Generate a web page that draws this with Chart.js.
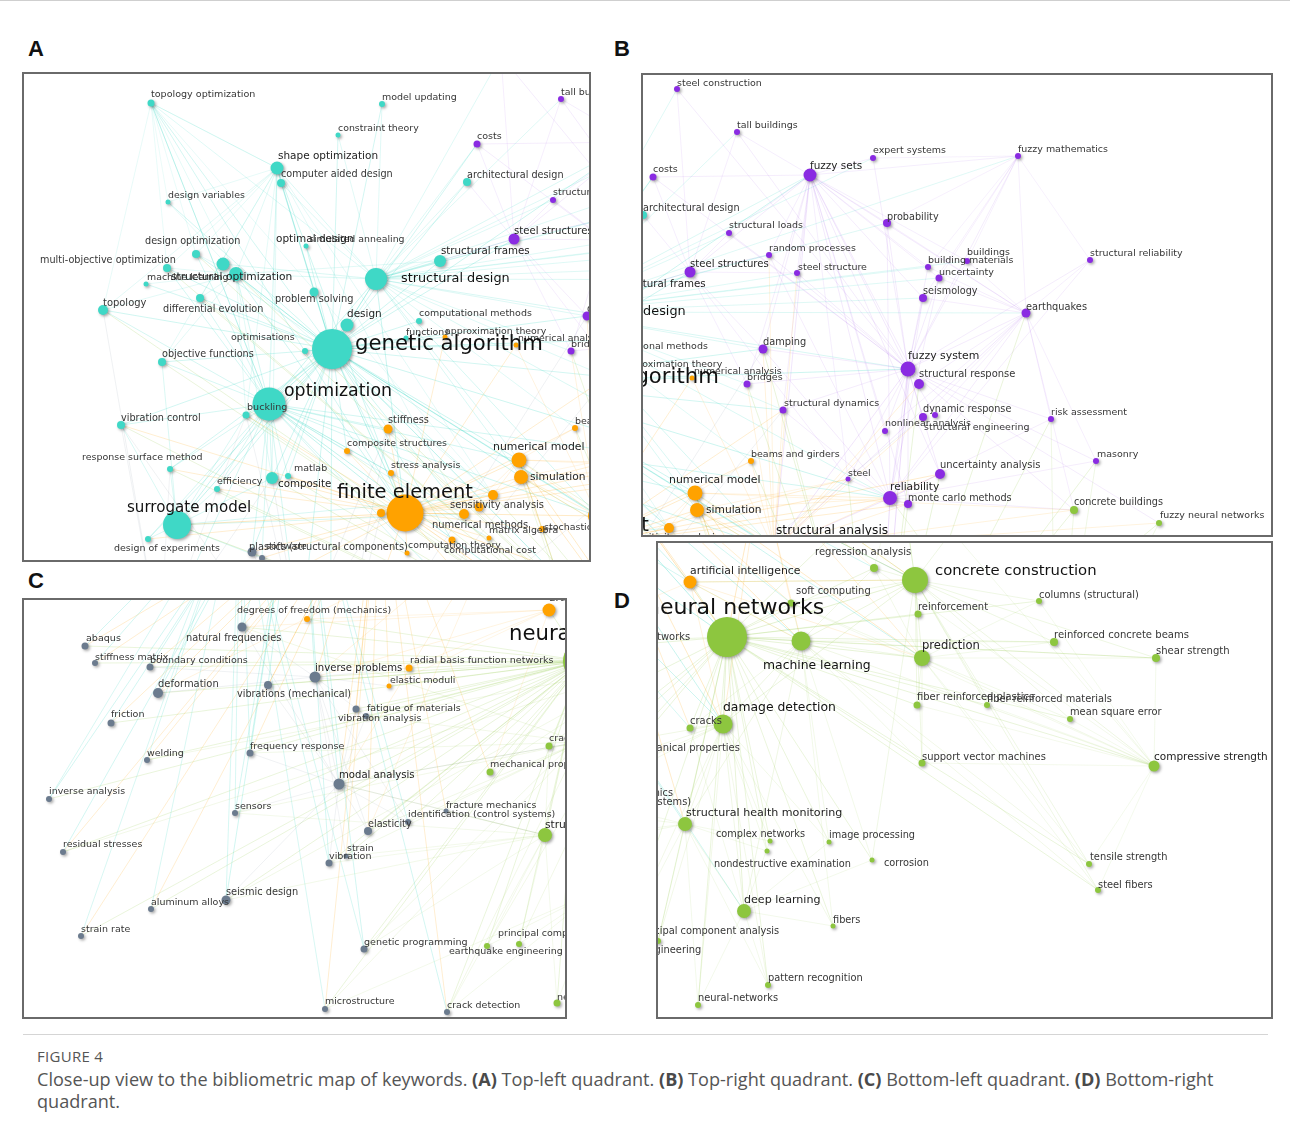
<!DOCTYPE html>
<html><head><meta charset="utf-8">
<script src="https://cdn.jsdelivr.net/npm/chart.js@4.4.0/dist/chart.umd.min.js"></script>
<style>
html,body{margin:0;padding:0;background:#fff;}
#page{position:relative;width:1290px;height:1133px;overflow:hidden;background:#fff;border-top:1px solid #cfcfcf;box-sizing:border-box;}
canvas{position:absolute;}
.frame{position:absolute;box-sizing:border-box;border:2px solid #6a6a6a;pointer-events:none;}
.tag{position:absolute;font:bold 22px "Liberation Sans",Arial,sans-serif;color:#111;line-height:22px;}
#sep{position:absolute;left:23px;top:1033px;width:1245px;height:1px;background:#d5d5d5;}
#fig{position:absolute;left:37px;top:1045px;font:15px/20px "Open Sans",sans-serif;color:#555;letter-spacing:0.3px;}
#cap{position:absolute;left:37px;top:1067px;font:18.1px/22px "Open Sans",sans-serif;color:#555;white-space:nowrap;}
#cap b{color:#4a4a4a;}
</style></head><body>
<div id="page">
<div class="tag" style="left:28px;top:37px">A</div>
<div class="tag" style="left:614px;top:37px">B</div>
<div class="tag" style="left:28px;top:569px">C</div>
<div class="tag" style="left:614px;top:589px">D</div>
<div id="sep"></div>
<div id="fig">FIGURE 4</div>
<div id="cap">Close-up view to the bibliometric map of keywords. <b>(A)</b> Top-left quadrant. <b>(B)</b> Top-right quadrant. <b>(C)</b> Bottom-left quadrant. <b>(D)</b> Bottom-right<br>quadrant.</div>
</div>
<script>
// ================= DATA: top map (panels A and B share it) =================
const topName = [
"topology optimization","model updating","constraint theory","shape optimization","computer aided design","design variables","design optimization","optimal design","simulated annealing","multi-objective optimization",
"machine learning","structural optimization","topology","differential evolution","problem solving","structural frames","structural design","design","computational methods","functions",
"genetic algorithm","optimisations","objective functions","optimization","buckling","vibration control","response surface method","efficiency","composite","matlab",
"surrogate model","design of experiments","architectural design","plastics (structural components)","software","approximation theory","numerical analysis","stiffness","composite structures","stress analysis",
"numerical model","simulation","beams and girders","finite element","sensitivity analysis","numerical methods","finite element analysis","finite element method","matrix algebra","stochastic systems",
"computation theory","computational cost","structural analysis","costs","tall buildings","structural loads","steel structures","steel construction","expert systems","fuzzy sets",
"probability","random processes","steel structure","buildings","building materials","uncertainty","seismology","fuzzy mathematics","structural reliability","earthquakes",
"damping","bridges","structural dynamics","fuzzy system","structural response","dynamic response","structural engineering","nonlinear analysis","risk assessment","masonry",
"uncertainty analysis","steel","reliability","monte carlo methods","concrete buildings","fuzzy neural networks","neural networks","concrete construction","damage detection","modal analysis",
"inverse problems","deformation"];
const topX = [
151,382,338,277,281,168,196,223,306,167,
146,236,103,200,314,440,376,347,419,406,
332,305,162,269,246,121,170,217,272,288,
177,148,467,252,262,445,516,388,347,391,
519,521,575,405,493,464,479,381,489,542,
407,452,598,477,561,553,514,501,697,634,
711,593,621,791,752,763,747,842,914,850,
587,571,607,732,743,747,759,709,875,920,
764,672,714,732,898,983,700,880,620,330,
300,160];
const topY = [
102,103,134,167,182,201,253,263,245,267,
283,273,309,297,291,260,278,324,320,337,
348,350,361,403,414,424,468,488,477,475,
524,538,181,551,557,336,344,428,450,472,
459,476,427,512,494,513,506,512,537,528,
552,539,515,143,98,199,238,55,124,141,
189,221,239,227,233,244,264,122,226,279,
315,350,376,335,350,383,381,397,385,427,
440,445,464,470,476,489,720,690,760,720,
640,640];
const topW = [
3.5,3,2.5,6.5,4,2.5,4,6.5,2.5,4,
2.5,7,5,4,4.5,6,11,6.5,3,2.5,
20,3,4,16.5,3.5,4,3,3,6,3,
14,3,4,4.5,3,2.5,2.5,4.5,3,3,
7.5,7,3,18.5,5,5,4.5,4,2.5,3,
2.5,3.5,10,3.5,3,3,5.5,3,3,6.5,
4,3,3,3,3,3.5,4,3,3,4.5,
4.5,3.5,3.5,7.5,5,4,3,3,3,3,
5,2.5,7,4,4,3,20,13,9.5,5.5,
5.5,5];
const topG = [
"c","c","c","c","c","c","c","c","c","c",
"c","c","c","c","c","c","c","c","c","c",
"c","c","c","c","c","c","c","c","c","c",
"c","c","c","s","s","o","o","o","o","o",
"o","o","o","o","o","o","o","o","o","o",
"o","o","o","p","p","p","p","p","p","p",
"p","p","p","p","p","p","p","p","p","p",
"p","p","p","p","p","p","p","p","p","p",
"p","p","p","p","g","g","g","g","g","s",
"s","s"];
const topTX = [
151,382,338,278,281,168,145,276,309,40,
147,171,103,163,275,441,401,347,419,406,
355,231,162,284,247,121,82,217,278,294,
127,114,467,249,266,445,518,388,347,391,
493,530,575,337,450,432,null,null,489,544,
408,444,600,477,561,553,514,501,697,634,
711,593,622,791,752,763,747,842,914,850,
587,571,608,732,743,747,748,709,875,921,
764,672,714,732,898,984,null,null,null,null,
null,null];
const topTY = [
94,97,128,155,173,195,240,238,239,259,
277,276,302,308,298,250,278,313,313,332,
343,337,353,390,407,417,457,481,483,468,
507,548,174,546,546,331,338,419,443,465,
446,476,421,492,504,524,null,null,530,527,
545,550,497,136,92,192,230,50,117,132,
183,215,234,219,227,239,257,116,220,273,
308,344,370,322,340,375,394,390,379,421,
431,440,453,464,468,482,null,null,null,null,
null,null];
const topEdges = [
 ["genetic algorithm", ["optimization","structural design","shape optimization","topology optimization","structural optimization","optimal design","design optimization","multi-objective optimization","design variables","topology","differential evolution","problem solving","design","computational methods","functions","optimisations","objective functions","buckling","vibration control","response surface method","efficiency","composite","matlab","surrogate model","design of experiments","structural frames","architectural design","simulated annealing","machine learning","computer aided design","model updating","constraint theory","finite element","numerical model","simulation","stiffness","composite structures","stress analysis","sensitivity analysis","numerical methods","approximation theory","numerical analysis","structural analysis","fuzzy sets","fuzzy system","steel structures","reliability","structural dynamics","damping","neural networks","costs","plastics (structural components)","inverse problems","modal analysis","computational cost","concrete construction"]],
 ["optimization", ["structural optimization","topology optimization","shape optimization","design optimization","multi-objective optimization","topology","objective functions","vibration control","response surface method","surrogate model","buckling","composite","efficiency","matlab","design of experiments","differential evolution","finite element","stiffness","composite structures","numerical model","sensitivity analysis","numerical methods","stress analysis","structural design","design","neural networks","deformation","plastics (structural components)","software","computation theory","matrix algebra","damage detection","structural analysis","reliability","inverse problems"]],
 ["structural design", ["architectural design","structural frames","shape optimization","computer aided design","optimal design","design","model updating","constraint theory","costs","steel structures","tall buildings","structural loads","steel structure","steel construction","fuzzy sets","probability","fuzzy system","earthquakes","seismology","buildings","building materials","random processes","structural analysis","finite element","numerical model","simulation","beams and girders","bridges","damping","expert systems","structural dynamics","reliability","uncertainty","fuzzy mathematics"]],
 ["shape optimization", ["topology optimization","design variables","multi-objective optimization","structural optimization","topology","differential evolution","problem solving","computer aided design","design optimization","finite element","sensitivity analysis","objective functions","buckling","numerical methods","composite"]],
 ["topology optimization", ["topology","structural optimization","shape optimization","design variables","finite element","optimization","design optimization","multi-objective optimization","structural design","sensitivity analysis"]],
 ["structural optimization", ["topology","design optimization","multi-objective optimization","differential evolution","machine learning","design variables","objective functions","finite element","sensitivity analysis","buckling","composite","structural design","structural frames"]],
 ["finite element", ["stiffness","composite structures","stress analysis","numerical model","simulation","sensitivity analysis","numerical methods","finite element analysis","finite element method","matrix algebra","stochastic systems","computation theory","computational cost","structural analysis","beams and girders","numerical analysis","approximation theory","surrogate model","composite","buckling","matlab","efficiency","vibration control","neural networks","plastics (structural components)","software","design of experiments","response surface method","deformation","modal analysis","damage detection","reliability","uncertainty analysis","steel","structural dynamics","monte carlo methods","concrete construction"]],
 ["numerical model", ["simulation","sensitivity analysis","beams and girders","structural analysis","neural networks","stochastic systems","numerical methods","reliability","concrete buildings","damage detection"]],
 ["simulation", ["neural networks","structural analysis","sensitivity analysis","reliability","stochastic systems","concrete construction","steel"]],
 ["fuzzy sets", ["probability","random processes","steel structure","fuzzy system","structural response","fuzzy mathematics","expert systems","reliability","uncertainty","seismology","damping","structural loads","steel structures","building materials","buildings","structural dynamics","bridges","nonlinear analysis","structural analysis","earthquakes","costs","tall buildings","monte carlo methods","steel","uncertainty analysis"]],
 ["fuzzy system", ["fuzzy mathematics","expert systems","probability","earthquakes","structural reliability","seismology","uncertainty","buildings","building materials","risk assessment","masonry","damping","bridges","structural dynamics","nonlinear analysis","reliability","monte carlo methods","uncertainty analysis","steel","costs","steel construction","tall buildings","structural response","dynamic response","structural engineering","structural loads","random processes","steel structure","structural analysis","neural networks","concrete buildings","fuzzy neural networks"]],
 ["reliability", ["monte carlo methods","uncertainty analysis","probability","structural reliability","steel","structural analysis","neural networks","random processes","uncertainty","seismology","risk assessment","masonry","earthquakes","concrete buildings","structural dynamics","damping"]],
 ["earthquakes", ["fuzzy mathematics","structural reliability","seismology","structural response","dynamic response","risk assessment","masonry","buildings","building materials","uncertainty","probability","structural engineering","nonlinear analysis","structural analysis","concrete buildings"]],
 ["fuzzy mathematics", ["expert systems","probability","seismology","uncertainty","buildings","structural reliability","building materials"]],
 ["structural analysis", ["damping","bridges","structural dynamics","beams and girders","steel","nonlinear analysis","dynamic response","structural response","uncertainty analysis","monte carlo methods","concrete buildings","fuzzy neural networks","neural networks","steel structure","random processes","numerical analysis"]],
 ["neural networks", ["concrete buildings","fuzzy neural networks","damping","structural dynamics","steel","monte carlo methods","uncertainty analysis","structural response","sensitivity analysis","stochastic systems","numerical methods","composite structures","stiffness","stress analysis","surrogate model","response surface method","efficiency","matlab","composite","buckling","vibration control","objective functions","differential evolution","structural optimization","multi-objective optimization","design optimization","topology","bridges","beams and girders","earthquakes","risk assessment","masonry"]],
 ["concrete construction", ["concrete buildings","fuzzy neural networks","masonry","risk assessment","reliability","structural analysis","numerical model","simulation"]],
 ["surrogate model", ["response surface method","design of experiments","efficiency","sensitivity analysis","vibration control","objective functions","composite","buckling","numerical methods","software"]],
 ["steel structures", ["costs","tall buildings","structural loads","steel construction","structural frames","architectural design","steel structure","random processes","damping","bridges","steel"]],
 ["modal analysis", ["damping","structural dynamics","finite element method","vibration control","stiffness","dynamic response"]],
 ["inverse problems", ["finite element method","composite","stiffness","buckling","plastics (structural components)"]],
 ["deformation", ["topology","vibration control","composite","response surface method","buckling"]],
 ["damage detection", ["numerical model","simulation","stochastic systems","computational cost","matrix algebra"]]
];

// ================= DATA: panel C map =================
const cName = ["natural frequencies","abaqus","stiffness matrix","boundary conditions","deformation","vibrations (mechanical)","friction","welding","frequency response","inverse analysis",
"sensors","residual stresses","seismic design","aluminum alloys","strain rate","inverse problems","fatigue of materials","vibration analysis","modal analysis","fracture mechanics",
"identification (control systems)","elasticity","strain","vibration","genetic programming","microstructure","crack detection","degrees of freedom (mechanics)","radial basis function networks","elastic moduli",
"artificial intelligence","neural networks","cracks","mechanical properties","structural health monitoring","principal component analysis","earthquake engineering","neural-networks","machine learning","damage detection",
"deep learning","concrete construction","prediction","finite element","genetic algorithm","optimization","numerical model"];
const cX = [242,85,95,150,158,268,111,147,250,49,
235,63,226,151,81,315,356,366,339,446,
408,368,346,329,364,325,447,307,409,389,
549,583,549,490,545,519,487,557,652,580,
599,758,765,380,300,240,500];
const cY = [626,645,662,666,692,684,722,759,752,798,
812,851,899,908,935,676,708,715,783,810,
821,830,855,862,948,1008,1011,618,667,685,
609,660,745,771,834,943,945,1002,664,741,
889,607,652,470,430,480,520];
const cW = [4.5,3.5,3,3.5,5,4,3.5,3,3.5,3,
3,3,4.5,3,3,5.5,3.5,3,5.5,2.5,
3,4,2.5,3.5,3.5,3,3,3,3.5,2.5,
6.5,20,3.5,3.5,7,3,3,3.5,9.5,9.5,
7,13,8,18.5,20,16.5,7.5];
const cG = ["s","s","s","s","s","s","s","s","s","s",
"s","s","s","s","s","s","s","s","s","s",
"s","s","s","s","s","s","s","o","o","o",
"o","g","g","g","g","g","g","g","g","g",
"g","g","g","o","c","c","o"];
const cTX = [186,86,95,150,158,237,111,147,250,49,
235,63,226,151,81,315,367,338,339,446,
408,368,347,329,364,325,447,237,410,390,
549,509,549,490,545,498,449,557,null,null,
null,null,null,null,null,null,null];
const cTY = [637,638,657,660,683,693,714,753,746,791,
806,844,891,902,929,667,708,718,774,805,
814,823,848,856,942,1001,1005,610,660,680,
597,633,738,764,824,933,951,997,null,null,
null,null,null,null,null,null,null];
const cEdges = [
 ["neural networks", ["natural frequencies","abaqus","stiffness matrix","boundary conditions","deformation","vibrations (mechanical)","friction","welding","frequency response","inverse analysis","sensors","residual stresses","seismic design","aluminum alloys","strain rate","inverse problems","fatigue of materials","vibration analysis","modal analysis","fracture mechanics","identification (control systems)","elasticity","strain","vibration","genetic programming","microstructure","crack detection","degrees of freedom (mechanics)","radial basis function networks","elastic moduli","artificial intelligence","cracks","mechanical properties","structural health monitoring","principal component analysis","earthquake engineering","neural-networks"]],
 ["finite element", ["natural frequencies","abaqus","stiffness matrix","boundary conditions","deformation","vibrations (mechanical)","friction","welding","frequency response","residual stresses","aluminum alloys","strain rate","inverse problems","modal analysis","elasticity","crack detection","microstructure","fatigue of materials","degrees of freedom (mechanics)","elastic moduli","fracture mechanics","strain","mechanical properties"]],
 ["genetic algorithm", ["seismic design","inverse analysis","inverse problems","modal analysis","frequency response","sensors","genetic programming","natural frequencies","vibration","deformation","identification (control systems)","abaqus","boundary conditions","stiffness matrix","vibrations (mechanical)","crack detection","friction","residual stresses"]],
 ["optimization", ["seismic design","sensors","inverse analysis","aluminum alloys","strain rate","welding","deformation","natural frequencies","frequency response","genetic programming","microstructure","vibration"]],
 ["modal analysis", ["natural frequencies","vibrations (mechanical)","frequency response","inverse problems","vibration","identification (control systems)","sensors","elasticity","damage detection","structural health monitoring","fatigue of materials","vibration analysis","seismic design"]],
 ["inverse problems", ["deformation","elastic moduli","identification (control systems)","vibration analysis","radial basis function networks","boundary conditions","natural frequencies","elasticity","strain"]],
 ["structural health monitoring", ["vibration","sensors","modal analysis","crack detection","fracture mechanics","genetic programming","principal component analysis","earthquake engineering","cracks","neural-networks","seismic design","strain"]],
 ["damage detection", ["modal analysis","frequency response","vibration","crack detection","natural frequencies","sensors","identification (control systems)","elasticity","vibration analysis","microstructure"]],
 ["machine learning", ["mechanical properties","cracks","principal component analysis","earthquake engineering","seismic design","genetic programming","residual stresses","welding"]],
 ["artificial intelligence", ["radial basis function networks","elastic moduli","degrees of freedom (mechanics)","inverse problems","natural frequencies","mechanical properties"]],
 ["deep learning", ["crack detection","microstructure","neural-networks","earthquake engineering","principal component analysis"]],
 ["numerical model", ["deformation","inverse problems","modal analysis","elasticity"]]
];

// ================= DATA: panel D map =================
const dName = ["regression analysis","soft computing","neural networks","machine learning","concrete construction","reinforcement","prediction","fiber reinforced plastics","fiber reinforced materials","damage detection",
"cracks","mechanical properties","support vector machines","structural health monitoring","complex networks","nondestructive examination","image processing","corrosion","deep learning","fibers",
"principal component analysis","earthquake engineering","pattern recognition","neural-networks","columns (structural)","reinforced concrete beams","shear strength","mean square error","compressive strength","tensile strength",
"steel fibers","artificial intelligence","radial basis function networks","fracture mechanics","identification (control systems)","modal analysis","finite element","genetic algorithm","optimization","concrete buildings",
"fuzzy neural networks","structural analysis","inverse problems","vibration","seismic design"];
const dX = [874,791,727,801,915,918,922,917,987,723,
690,627,922,685,770,767,829,872,744,833,
658,623,768,698,1039,1054,1156,1070,1154,1089,
1098,690,540,579,538,464,560,480,420,900,
990,760,495,454,343];
const dY = [567,602,636,640,579,613,657,704,704,723,
727,755,762,823,840,850,841,859,910,925,
940,942,984,1004,600,641,657,718,765,863,
889,581,643,797,806,768,400,360,420,470,
480,470,655,853,893];
const dW = [4,3.5,20,9.5,13,3.5,8,3.5,3,9.5,
3.5,3.5,3.5,7,2.5,2.5,2.5,2.5,7,2.5,
3,3,3,3,3,4,4,3,5.5,3,
3,6.5,3.5,2.5,3,5.5,18.5,20,16.5,4,
3,10,5.5,3.5,4.5];
const dG = ["g","g","g","g","g","g","g","g","g","g",
"g","g","g","g","g","g","g","g","g","g",
"g","g","g","g","g","g","g","g","g","g",
"g","o","o","s","s","s","o","c","c","g",
"g","o","s","s","s"];
const dTX = [815,796,646,763,935,918,922,917,987,723,
690,629,922,686,716,714,829,884,744,833,
635,583,768,698,1039,1054,1156,1070,1154,1090,
1098,690,541,579,538,null,null,null,null,null,
null,null,null,null,null];
const dTY = [551,590,607,665,570,606,645,696,698,707,
720,747,756,812,833,863,834,862,899,919,
930,949,977,997,594,634,650,711,756,856,
884,570,636,792,801,null,null,null,null,null,
null,null,null,null,null];
const dEdges = [
 ["neural networks", ["regression analysis","soft computing","machine learning","concrete construction","reinforcement","prediction","fiber reinforced plastics","fiber reinforced materials","damage detection","cracks","mechanical properties","support vector machines","structural health monitoring","complex networks","nondestructive examination","image processing","corrosion","deep learning","fibers","principal component analysis","earthquake engineering","pattern recognition","neural-networks","columns (structural)","reinforced concrete beams","shear strength","mean square error","compressive strength","tensile strength","steel fibers","artificial intelligence","radial basis function networks","fracture mechanics","identification (control systems)","modal analysis","inverse problems","vibration"]],
 ["concrete construction", ["reinforcement","columns (structural)","reinforced concrete beams","shear strength","compressive strength","regression analysis","fiber reinforced plastics","fiber reinforced materials","mean square error","tensile strength","steel fibers","prediction","machine learning","support vector machines","soft computing","artificial intelligence","corrosion","damage detection","concrete buildings","fuzzy neural networks","structural analysis"]],
 ["compressive strength", ["prediction","mean square error","shear strength","tensile strength","steel fibers","fiber reinforced materials","fiber reinforced plastics","machine learning","support vector machines","regression analysis","reinforced concrete beams","columns (structural)","soft computing"]],
 ["machine learning", ["prediction","deep learning","damage detection","structural health monitoring","support vector machines","regression analysis","soft computing","corrosion","image processing","tensile strength","steel fibers","shear strength","reinforced concrete beams","fibers","artificial intelligence","cracks"]],
 ["damage detection", ["cracks","structural health monitoring","deep learning","complex networks","nondestructive examination","pattern recognition","neural-networks","fibers","principal component analysis","image processing","mechanical properties","fracture mechanics","identification (control systems)","modal analysis","earthquake engineering"]],
 ["deep learning", ["image processing","cracks","structural health monitoring","pattern recognition","neural-networks","fibers","corrosion","complex networks"]],
 ["prediction", ["shear strength","reinforced concrete beams","fiber reinforced plastics","tensile strength","steel fibers","mean square error","support vector machines","regression analysis","soft computing","columns (structural)"]],
 ["structural health monitoring", ["principal component analysis","earthquake engineering","pattern recognition","neural-networks","complex networks","nondestructive examination","fracture mechanics","identification (control systems)","vibration","seismic design"]],
 ["finite element", ["neural networks","artificial intelligence","machine learning","damage detection","structural health monitoring","prediction","mechanical properties","cracks","concrete construction","soft computing"]],
 ["genetic algorithm", ["neural networks","artificial intelligence","machine learning","damage detection","soft computing","prediction","regression analysis","concrete construction"]],
 ["optimization", ["neural networks","artificial intelligence","damage detection","structural health monitoring","cracks","deep learning"]],
 ["structural analysis", ["neural networks","concrete construction","machine learning","regression analysis","prediction","soft computing","damage detection"]],
 ["concrete buildings", ["concrete construction","compressive strength","neural networks","regression analysis"]],
 ["artificial intelligence", ["radial basis function networks","machine learning","prediction","concrete construction","damage detection"]]
];

// ================= rendering =================
const COLORS = {c:"#3fd8c6", p:"#8a2be2", o:"#ffa200", g:"#8dc63f", s:"#6b7b8e"};
const EDGE_K = {c:1.15, p:0.75, o:0.95, g:0.9, s:0.9};
function rgba(hex, a){
  const n = parseInt(hex.slice(1),16);
  return `rgba(${(n>>16)&255},${(n>>8)&255},${n&255},${a})`;
}
function buildMap(names, xs, ys, ws, gs, txs, tys){
  const nodes = names.map((nm,i)=>({name:nm, x:xs[i], y:ys[i], w:ws[i], g:gs[i], tx:txs[i], ty:tys[i]}));
  const idx = {}; nodes.forEach(n=>{ idx[n.name]=n; });
  return {nodes, idx};
}
function buildEdges(map, list){
  const out = [];
  list.forEach(([hub, targets])=>{
    const s = map.idx[hub];
    if(!s){ console.warn('missing', hub); return; }
    targets.forEach(t=>{ const e = map.idx[t]; if(!e){ console.warn('missing', t); return; } out.push([s,e]); });
  });
  return out;
}
function netPlugin(map, edges, fontScale){
  return {
    id:'net',
    beforeDatasetsDraw(chart){
      const {ctx, chartArea:a, scales:{x, y}} = chart;
      ctx.save();
      ctx.beginPath(); ctx.rect(a.left, a.top, a.right-a.left, a.bottom-a.top); ctx.clip();
      ctx.lineWidth = 1;
      edges.forEach(([s,t])=>{
        const al = Math.min(0.42, (0.05 + 0.0065*(s.w + t.w)) * EDGE_K[s.g]);
        ctx.strokeStyle = rgba(COLORS[s.g], al.toFixed(3));
        ctx.beginPath();
        ctx.moveTo(x.getPixelForValue(s.x), y.getPixelForValue(s.y));
        ctx.lineTo(x.getPixelForValue(t.x), y.getPixelForValue(t.y));
        ctx.stroke();
      });
      ctx.restore();
    },
    beforeDatasetDraw(chart){
      const c = chart.ctx; c.save();
      c.shadowColor = 'rgba(0,0,0,0.35)'; c.shadowBlur = 3; c.shadowOffsetX = 1.5; c.shadowOffsetY = 1.5;
    },
    afterDatasetDraw(chart){ chart.ctx.restore(); },
    afterDatasetsDraw(chart){
      const {ctx, scales:{x, y}} = chart;
      ctx.save();
      ctx.textBaseline = 'middle'; ctx.textAlign = 'left';
      const lab = map.nodes.filter(n=>n.tx!==null && n.tx!==undefined).sort((a,b)=>a.w-b.w);
      lab.forEach(n=>{
        const fs = (9.2 + 0.03*n.w*n.w)*fontScale;
        ctx.font = `${fs.toFixed(2)}px "DejaVu Sans", Verdana, sans-serif`;
        ctx.fillStyle = n.w>=9 ? '#111' : (n.w>=5.5 ? '#222' : '#363636');
        ctx.fillText(n.name, x.getPixelForValue(n.tx), y.getPixelForValue(n.ty));
      });
      ctx.restore();
    }
  };
}
function makePanel(rect, win, map, edgeList, fontScale){
  const page = document.getElementById('page');
  const cv = document.createElement('canvas');
  cv.width = rect[2]; cv.height = rect[3];
  cv.style.left = rect[0]+'px'; cv.style.top = rect[1]+'px';
  cv.style.width = rect[2]+'px'; cv.style.height = rect[3]+'px';
  page.appendChild(cv);
  const fr = document.createElement('div');
  fr.className = 'frame';
  fr.style.left = (rect[0]-1)+'px'; fr.style.top = (rect[1]-1)+'px';
  fr.style.width = (rect[2]+2)+'px'; fr.style.height = (rect[3]+2)+'px';
  page.appendChild(fr);
  const edges = buildEdges(map, edgeList);
  new Chart(cv, {
    type:'bubble',
    data:{datasets:[{
      data: map.nodes.map(n=>({x:n.x, y:n.y, r:n.w})),
      backgroundColor: map.nodes.map(n=>COLORS[n.g]),
      borderWidth:0, hoverRadius:0
    }]},
    options:{
      responsive:false, animation:false, events:[], devicePixelRatio:1,
      layout:{padding:0, autoPadding:false},
      plugins:{legend:{display:false}, tooltip:{enabled:false}},
      scales:{
        x:{type:'linear', min:win[0], max:win[1], display:false},
        y:{type:'linear', min:win[2], max:win[3], reverse:true, display:false}
      }
    },
    plugins:[netPlugin(map, edges, fontScale)]
  });
}
const topMap = buildMap(topName, topX, topY, topW, topG, topTX, topTY);
const cMap = buildMap(cName, cX, cY, cW, cG, cTX, cTY);
const dMap = buildMap(dName, dX, dY, dW, dG, dTX, dTY);
makePanel([23,72,567,488], [23,590,72,560], topMap, topEdges, 1);
makePanel([642,73,630,462], [466,1096,40,502], topMap, topEdges, 1);
makePanel([23,598,543,419], [23,566,598,1017], cMap, cEdges, 1);
makePanel([657,541,615,476], [657,1272,541,1017], dMap, dEdges, 1.04);
</script>
</body></html>
